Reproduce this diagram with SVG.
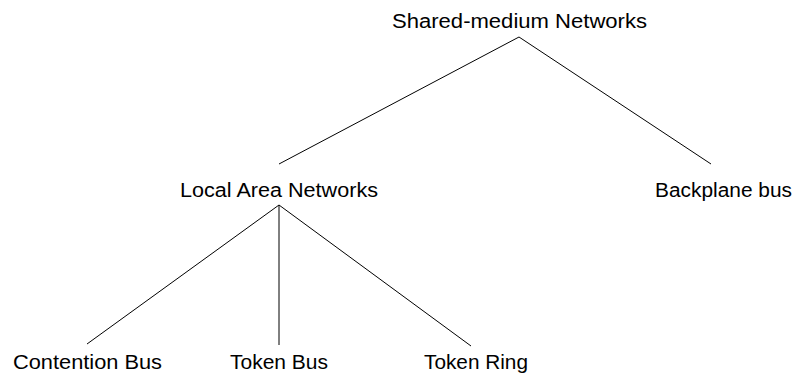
<svg xmlns="http://www.w3.org/2000/svg" width="796" height="373" viewBox="0 0 796 373">
  <style>
    .lbl { font-family: "Liberation Sans", Arial, sans-serif; font-size: 20px; fill: #000; text-anchor: middle; }
    .edge { stroke: #000; stroke-width: 1; fill: none; }
  </style>
  <rect width="796" height="373" fill="#fff"/>
  <g id="connectors">
    <line class="edge" x1="519" y1="37" x2="279" y2="164"/>
    <line class="edge" x1="519" y1="37" x2="711" y2="164"/>
    <line class="edge" x1="279" y1="205" x2="87" y2="344"/>
    <line class="edge" x1="279" y1="205" x2="279" y2="345"/>
    <line class="edge" x1="279" y1="205" x2="471" y2="346"/>
  </g>
  <g id="shared-medium">
    <text class="lbl" x="519.5" y="28" textLength="255" lengthAdjust="spacingAndGlyphs">Shared-medium Networks</text>
  </g>
  <g id="lan">
    <text class="lbl" x="279" y="197" textLength="198" lengthAdjust="spacingAndGlyphs">Local Area Networks</text>
  </g>
  <g id="backplane">
    <text class="lbl" x="723.5" y="197" textLength="137" lengthAdjust="spacingAndGlyphs">Backplane bus</text>
  </g>
  <g id="contention-bus">
    <text class="lbl" x="87.5" y="369" textLength="149" lengthAdjust="spacingAndGlyphs">Contention Bus</text>
  </g>
  <g id="token-bus">
    <text class="lbl" x="279" y="369" textLength="98" lengthAdjust="spacingAndGlyphs">Token Bus</text>
  </g>
  <g id="token-ring">
    <text class="lbl" x="476" y="369" textLength="104" lengthAdjust="spacingAndGlyphs">Token Ring</text>
  </g>
</svg>
